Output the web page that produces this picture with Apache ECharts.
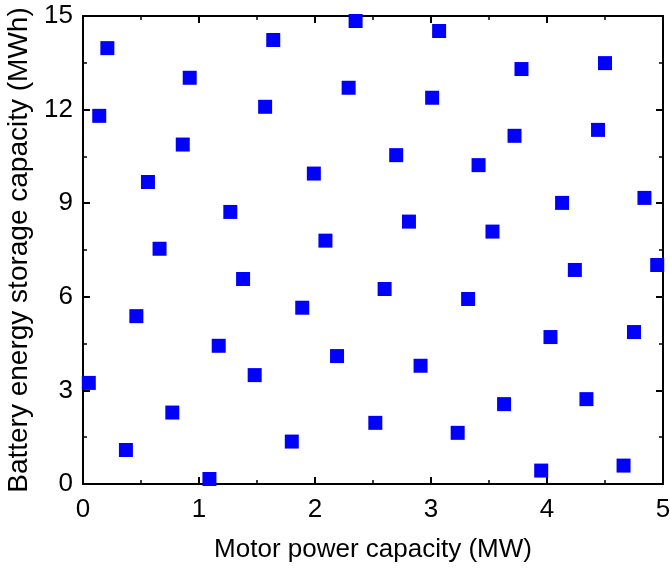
<!DOCTYPE html>
<html>
<head>
<meta charset="utf-8">
<script src="https://cdn.jsdelivr.net/npm/echarts@6/dist/echarts.min.js"></script>
<style>
  html, body { margin: 0; padding: 0; background: #fff; }
  #main { width: 670px; height: 573px; }
</style>
</head>
<body>
<div id="main"></div>
<script>
// 电机功率 (MW)
var powerMW = [
  0.05, 0.14, 0.21, 0.37, 0.46, 0.56, 0.66, 0.77, 0.86, 0.92,
  1.09, 1.17, 1.27, 1.38, 1.48, 1.57, 1.64, 1.80, 1.89, 1.99,
  2.09, 2.19, 2.29, 2.35, 2.52, 2.60, 2.70, 2.81, 2.91, 3.01,
  3.07, 3.23, 3.32, 3.41, 3.53, 3.63, 3.72, 3.78, 3.95, 4.03,
  4.13, 4.24, 4.34, 4.44, 4.50, 4.66, 4.75, 4.84, 4.95
];
// 电池储能容量 (MWh)
var energyMWh = [
  3.24, 11.80, 13.97, 1.09, 5.38, 9.68, 7.54, 2.29, 10.88, 13.02,
  0.16, 4.43, 8.72, 6.57, 3.49, 12.09, 14.23, 1.36, 5.65, 9.95,
  7.80, 4.10, 12.70, 14.84, 1.96, 6.25, 10.54, 8.41, 3.79, 12.38,
  14.52, 1.64, 5.93, 10.22, 8.09, 2.56, 11.16, 13.30, 0.43, 4.71,
  9.01, 6.86, 2.72, 11.35, 13.49, 0.59, 4.87, 9.17, 7.02
];
var xTicks = [0, 1, 2, 3, 4, 5];
var yTicks = [0, 3, 6, 9, 12, 15];

var points = powerMW.map(function (x, i) { return [x, energyMWh[i]]; });

var myChart = echarts.init(document.getElementById('main'));
var font = 'Liberation Sans, Arial, sans-serif';
var lineStyle = { color: '#000', width: 2 };

function axisBase(extra) {
  var a = {
    type: 'value',
    axisLine: { show: true, onZero: false, lineStyle: lineStyle },
    axisTick: { show: true, inside: true, length: 7, lineStyle: lineStyle },
    minorTick: { show: true, splitNumber: 2, length: 4, lineStyle: { color: '#000', width: 1.5 } },
    splitLine: { show: false },
    minorSplitLine: { show: false }
  };
  for (var k in extra) a[k] = extra[k];
  return a;
}

option = {
  backgroundColor: '#fff',
  animation: false,
  grid: { left: 83, top: 16, right: 7, bottom: 89, containLabel: false, outerBoundsMode: 'none' },
  xAxis: [
    axisBase({
      min: xTicks[0], max: xTicks[xTicks.length - 1], interval: 1,
      position: 'bottom',
      name: 'Motor power capacity (MW)',
      nameLocation: 'middle', nameGap: 53,
      nameTextStyle: { fontFamily: font, fontSize: 26, color: '#000' },
      axisLabel: { fontFamily: font, fontSize: 26, color: '#000', margin: 13 }
    }),
    axisBase({
      min: xTicks[0], max: xTicks[xTicks.length - 1], interval: 1,
      position: 'top',
      axisLabel: { show: false }
    })
  ],
  yAxis: [
    axisBase({
      min: yTicks[0], max: yTicks[yTicks.length - 1], interval: 3,
      position: 'left',
      name: 'Battery energy storage capacity (MWh)',
      nameLocation: 'middle', nameGap: 42,
      nameTextStyle: { fontFamily: font, fontSize: 28, color: '#000' },
      axisLabel: { fontFamily: font, fontSize: 26, color: '#000', margin: 10 }
    }),
    axisBase({
      min: yTicks[0], max: yTicks[yTicks.length - 1], interval: 3,
      position: 'right',
      axisLabel: { show: false }
    })
  ],
  series: [{
    type: 'scatter',
    symbol: 'rect',
    symbolSize: 14,
    itemStyle: { color: '#0000ff', opacity: 1 },
    data: points
  }]
};
myChart.setOption(option);
</script>
</body>
</html>
